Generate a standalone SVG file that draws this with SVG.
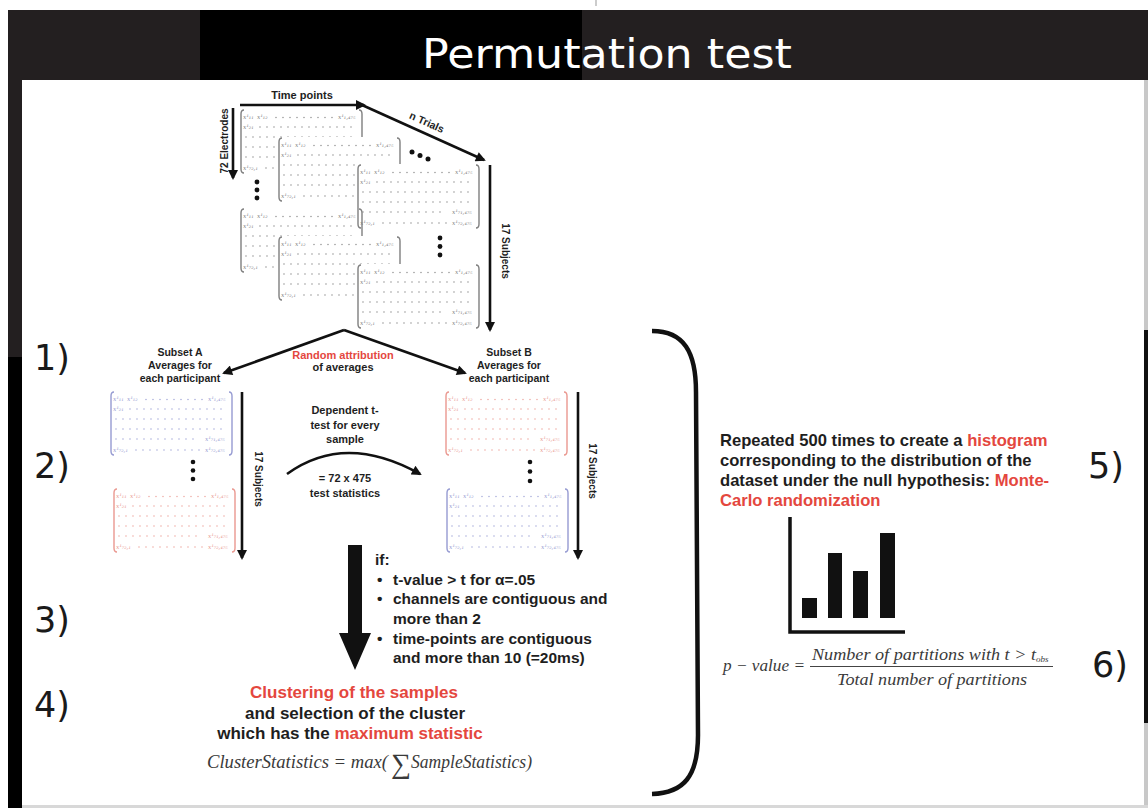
<svg xmlns="http://www.w3.org/2000/svg" width="1148" height="808" viewBox="0 0 1148 808">
<defs>
<style>
.t{font-family:"Liberation Sans",Arial,sans-serif;font-weight:bold;fill:#1e1e1e}
.r{fill:#e4473e}
.c{text-anchor:middle}
.num{font-family:"DejaVu Sans",sans-serif;font-size:35px;fill:#1a1a1a}
.m{font-family:"Liberation Serif","Times New Roman",serif;font-style:italic;fill:#3a3a3a}
.e{font-family:"DejaVu Serif",serif;font-style:italic;font-size:6px;fill:currentColor}
.br{fill:none;stroke:currentColor;stroke-width:1.4}
.dt{fill:none;stroke:currentColor;stroke-width:1.3;stroke-linecap:round;stroke-dasharray:0 7}
.ar{fill:none;stroke:#111;stroke-width:2.6;marker-end:url(#ah)}
.dot{fill:#111}
</style>
<marker id="ah" viewBox="0 0 10 10" refX="8" refY="5" markerWidth="11" markerHeight="10" markerUnits="userSpaceOnUse" orient="auto"><path d="M0,0 L10,5 L0,10 z" fill="#111"/></marker>
<g id="ent">
<text class="e" x="3" y="9">x¹₁₁</text>
<text class="e" x="17" y="9">x¹₁₂</text>
<text class="e" x="98" y="9">x¹₁,₄₇₅</text>
<text class="e" x="3" y="19">x¹₂₁</text>
<text class="e" x="95" y="49">x¹₇₁,₄₇₅</text>
<text class="e" x="3" y="60">x¹₇₂,₁</text>
<text class="e" x="95" y="60">x¹₇₂,₄₇₅</text>
<path class="dt" d="M36,7.5 H93 M20,17 H118 M6,27 H118 M6,37 H118 M6,47 H90 M26,58 H90"/>
<path class="br" d="M4,0 Q1,0 1,4 V59 Q1,63 4,63"/>
<path class="br" d="M119,0 Q122,0 122,4 V59 Q122,63 119,63"/>
</g>
<g id="mT"><rect x="-2" y="-1" width="117" height="66" fill="#fff"/><use href="#ent"/></g>
</defs>

<rect width="1148" height="808" fill="#fff"/>
<g id="frame">
<rect x="8" y="10" width="1140" height="70" fill="#231f20"/>
<rect x="200" y="10" width="382" height="70" fill="#000"/>
<rect x="8" y="80" width="14" height="728" fill="#231f20"/>
<rect x="8" y="357" width="14" height="451" fill="#000"/>
<rect x="1144" y="80" width="4" height="725" fill="#c8c8c8"/>
<rect x="1144" y="330" width="4" height="393" fill="#111"/>
<rect x="22" y="805" width="1126" height="3" fill="#d8d8d8"/>
<line x1="596" y1="0" x2="596" y2="6" stroke="#999" stroke-width="1"/>
</g>

<g id="title"><text x="607" y="68" font-family="DejaVu Sans, sans-serif" font-size="40" fill="#fff" text-anchor="middle" textLength="370" lengthAdjust="spacingAndGlyphs">Permutation test</text></g>

<g id="steps">
<text class="num" x="34" y="370">1)</text>
<text class="num" x="34" y="478">2)</text>
<text class="num" x="34" y="632">3)</text>
<text class="num" x="34" y="717">4)</text>
<text class="num" x="1088" y="478">5)</text>
<text class="num" x="1092" y="677">6)</text>
</g>

<g id="data-stack">
<use href="#mT" x="240" y="110" style="color:#7f7f7f"/>
<use href="#mT" x="278" y="138" style="color:#7f7f7f"/>
<use href="#mT" x="357" y="165" style="color:#7f7f7f"/>
<use href="#mT" x="240" y="209" style="color:#7f7f7f"/>
<use href="#mT" x="278" y="237" style="color:#7f7f7f"/>
<use href="#mT" x="357" y="265" style="color:#7f7f7f"/>
<circle class="dot" cx="412" cy="152" r="2.5"/><circle class="dot" cx="420" cy="155.5" r="2.5"/><circle class="dot" cx="428" cy="159" r="2.5"/>
<circle class="dot" cx="257" cy="182" r="2.4"/><circle class="dot" cx="257" cy="190" r="2.4"/><circle class="dot" cx="257" cy="198" r="2.4"/>
<circle class="dot" cx="440" cy="238" r="2.4"/><circle class="dot" cx="440" cy="246.5" r="2.4"/><circle class="dot" cx="440" cy="255" r="2.4"/>
<text class="t c" x="302" y="99" font-size="11">Time points</text>
<text class="t c" font-size="10.5" transform="translate(427,122) rotate(24.4)" y="4">n Trials</text>
<text class="t c" font-size="10" transform="translate(227.5,141) rotate(-90)">72 Electrodes</text>
<text class="t c" font-size="10" transform="translate(502,251) rotate(90)">17 Subjects</text>
</g>

<g id="split-label">
<text class="t c r" x="343" y="359" font-size="11">Random attribution</text>
<text class="t c" x="343" y="371" font-size="11">of averages</text>
</g>

<g id="subset-a">
<text class="t c" x="180" y="356" font-size="10.5">Subset A</text>
<text class="t c" x="180" y="369" font-size="10.5">Averages for</text>
<text class="t c" x="180" y="382" font-size="10.5">each participant</text>
<use href="#ent" x="110" y="392" style="color:#969bd2"/>
<use href="#ent" x="113" y="489" style="color:#ea9890"/>
<circle class="dot" cx="193" cy="462" r="2.3"/><circle class="dot" cx="193" cy="470.5" r="2.3"/><circle class="dot" cx="193" cy="479" r="2.3"/>
<text class="t c" font-size="10" transform="translate(255,479) rotate(90)">17 Subjects</text>
</g>

<g id="subset-b">
<text class="t c" x="509" y="356" font-size="10.5">Subset B</text>
<text class="t c" x="509" y="369" font-size="10.5">Averages for</text>
<text class="t c" x="509" y="382" font-size="10.5">each participant</text>
<use href="#ent" x="445" y="392" style="color:#ea9890"/>
<use href="#ent" x="446" y="489" style="color:#969bd2"/>
<circle class="dot" cx="530" cy="462" r="2.3"/><circle class="dot" cx="530" cy="471.5" r="2.3"/><circle class="dot" cx="530" cy="481" r="2.3"/>
<text class="t c" font-size="10" transform="translate(589,471) rotate(90)">17 Subjects</text>
</g>

<g id="ttest">
<text class="t c" x="345" y="414" font-size="11">Dependent t-</text>
<text class="t c" x="345" y="429" font-size="11">test for every</text>
<text class="t c" x="345" y="443" font-size="11">sample</text>
<text class="t c" x="345" y="482" font-size="11">= 72 x 475</text>
<text class="t c" x="345" y="497" font-size="11">test statistics</text>
</g>

<g id="criteria">
<text class="t" x="375" y="565" font-size="15.5">if:</text>
<text class="t" font-size="15.5">
<tspan x="377" y="585">•</tspan><tspan x="393" y="585">t-value &gt; t for α=.05</tspan>
<tspan x="377" y="604">•</tspan><tspan x="393" y="604">channels are contiguous and</tspan>
<tspan x="393" y="624">more than 2</tspan>
<tspan x="377" y="644">•</tspan><tspan x="393" y="644">time-points are contiguous</tspan>
<tspan x="393" y="663">and more than 10 (=20ms)</tspan>
</text>
</g>

<g id="clustering">
<text class="t c r" x="354" y="698" font-size="17">Clustering of the samples</text>
<text class="t c" x="355" y="719" font-size="17">and selection of the cluster</text>
<text class="t c" x="350" y="739" font-size="17">which has the <tspan class="r">maximum statistic</tspan></text>
<text class="m" font-size="18"><tspan x="207" y="768" textLength="181" lengthAdjust="spacingAndGlyphs">ClusterStatistics = max(</tspan><tspan x="391" y="773" font-size="28" font-style="normal">∑</tspan><tspan x="411" y="768" textLength="121" lengthAdjust="spacingAndGlyphs">SampleStatistics)</tspan></text>
</g>

<g id="repeat">
<text class="t" x="720" y="446" font-size="16.6">Repeated 500 times to create a <tspan class="r">histogram</tspan></text>
<text class="t" x="720" y="466" font-size="16.6">corresponding to the distribution of the</text>
<text class="t" x="720" y="486" font-size="16.6">dataset under the null hypothesis: <tspan class="r">Monte-</tspan></text>
<text class="t r" x="720" y="506" font-size="16.6">Carlo randomization</text>
</g>

<g id="histogram">
<path d="M790,517 V632 H905" fill="none" stroke="#111" stroke-width="3.5"/>
<rect x="802" y="598" width="15" height="20" fill="#111"/>
<rect x="828" y="553" width="14" height="65" fill="#111"/>
<rect x="853" y="571" width="15" height="47" fill="#111"/>
<rect x="880" y="533" width="15" height="85" fill="#111"/>
</g>

<g id="pvalue">
<text class="m" x="723" y="671" font-size="16" textLength="82" lengthAdjust="spacingAndGlyphs">p − value =</text>
<line x1="810" y1="666.5" x2="1053" y2="666.5" stroke="#444" stroke-width="1.2"/>
<text class="m" font-size="16"><tspan x="812" y="660" textLength="224" lengthAdjust="spacingAndGlyphs">Number of partitions with t &gt; t</tspan><tspan font-size="9" dy="2">obs</tspan></text>
<text class="m" x="837" y="685" font-size="16" textLength="190" lengthAdjust="spacingAndGlyphs">Total number of partitions</text>
</g>

<g id="connectors">
<line class="ar" x1="240" y1="105" x2="364" y2="105"/>
<line class="ar" x1="362" y1="105" x2="484" y2="160"/>
<line class="ar" x1="233" y1="108" x2="233" y2="178"/>
<line class="ar" x1="490" y1="165" x2="490" y2="330"/>
<line class="ar" x1="344" y1="330" x2="224" y2="373"/>
<line class="ar" x1="344" y1="330" x2="465" y2="373"/>
<line class="ar" x1="242" y1="392" x2="242" y2="558"/>
<line class="ar" x1="578" y1="392" x2="578" y2="558"/>
<path class="ar" d="M287,474 Q345,432 420,474" stroke-width="2"/>
<path d="M348,545 H362 V633 H371 L355,670 L339,633 H348 Z" fill="#111"/>
<path d="M652,331 C684,331 696,352 696,392 L698,735 C698,776 684,793 652,794" fill="none" stroke="#111" stroke-width="4.5"/>
</g>
</svg>
